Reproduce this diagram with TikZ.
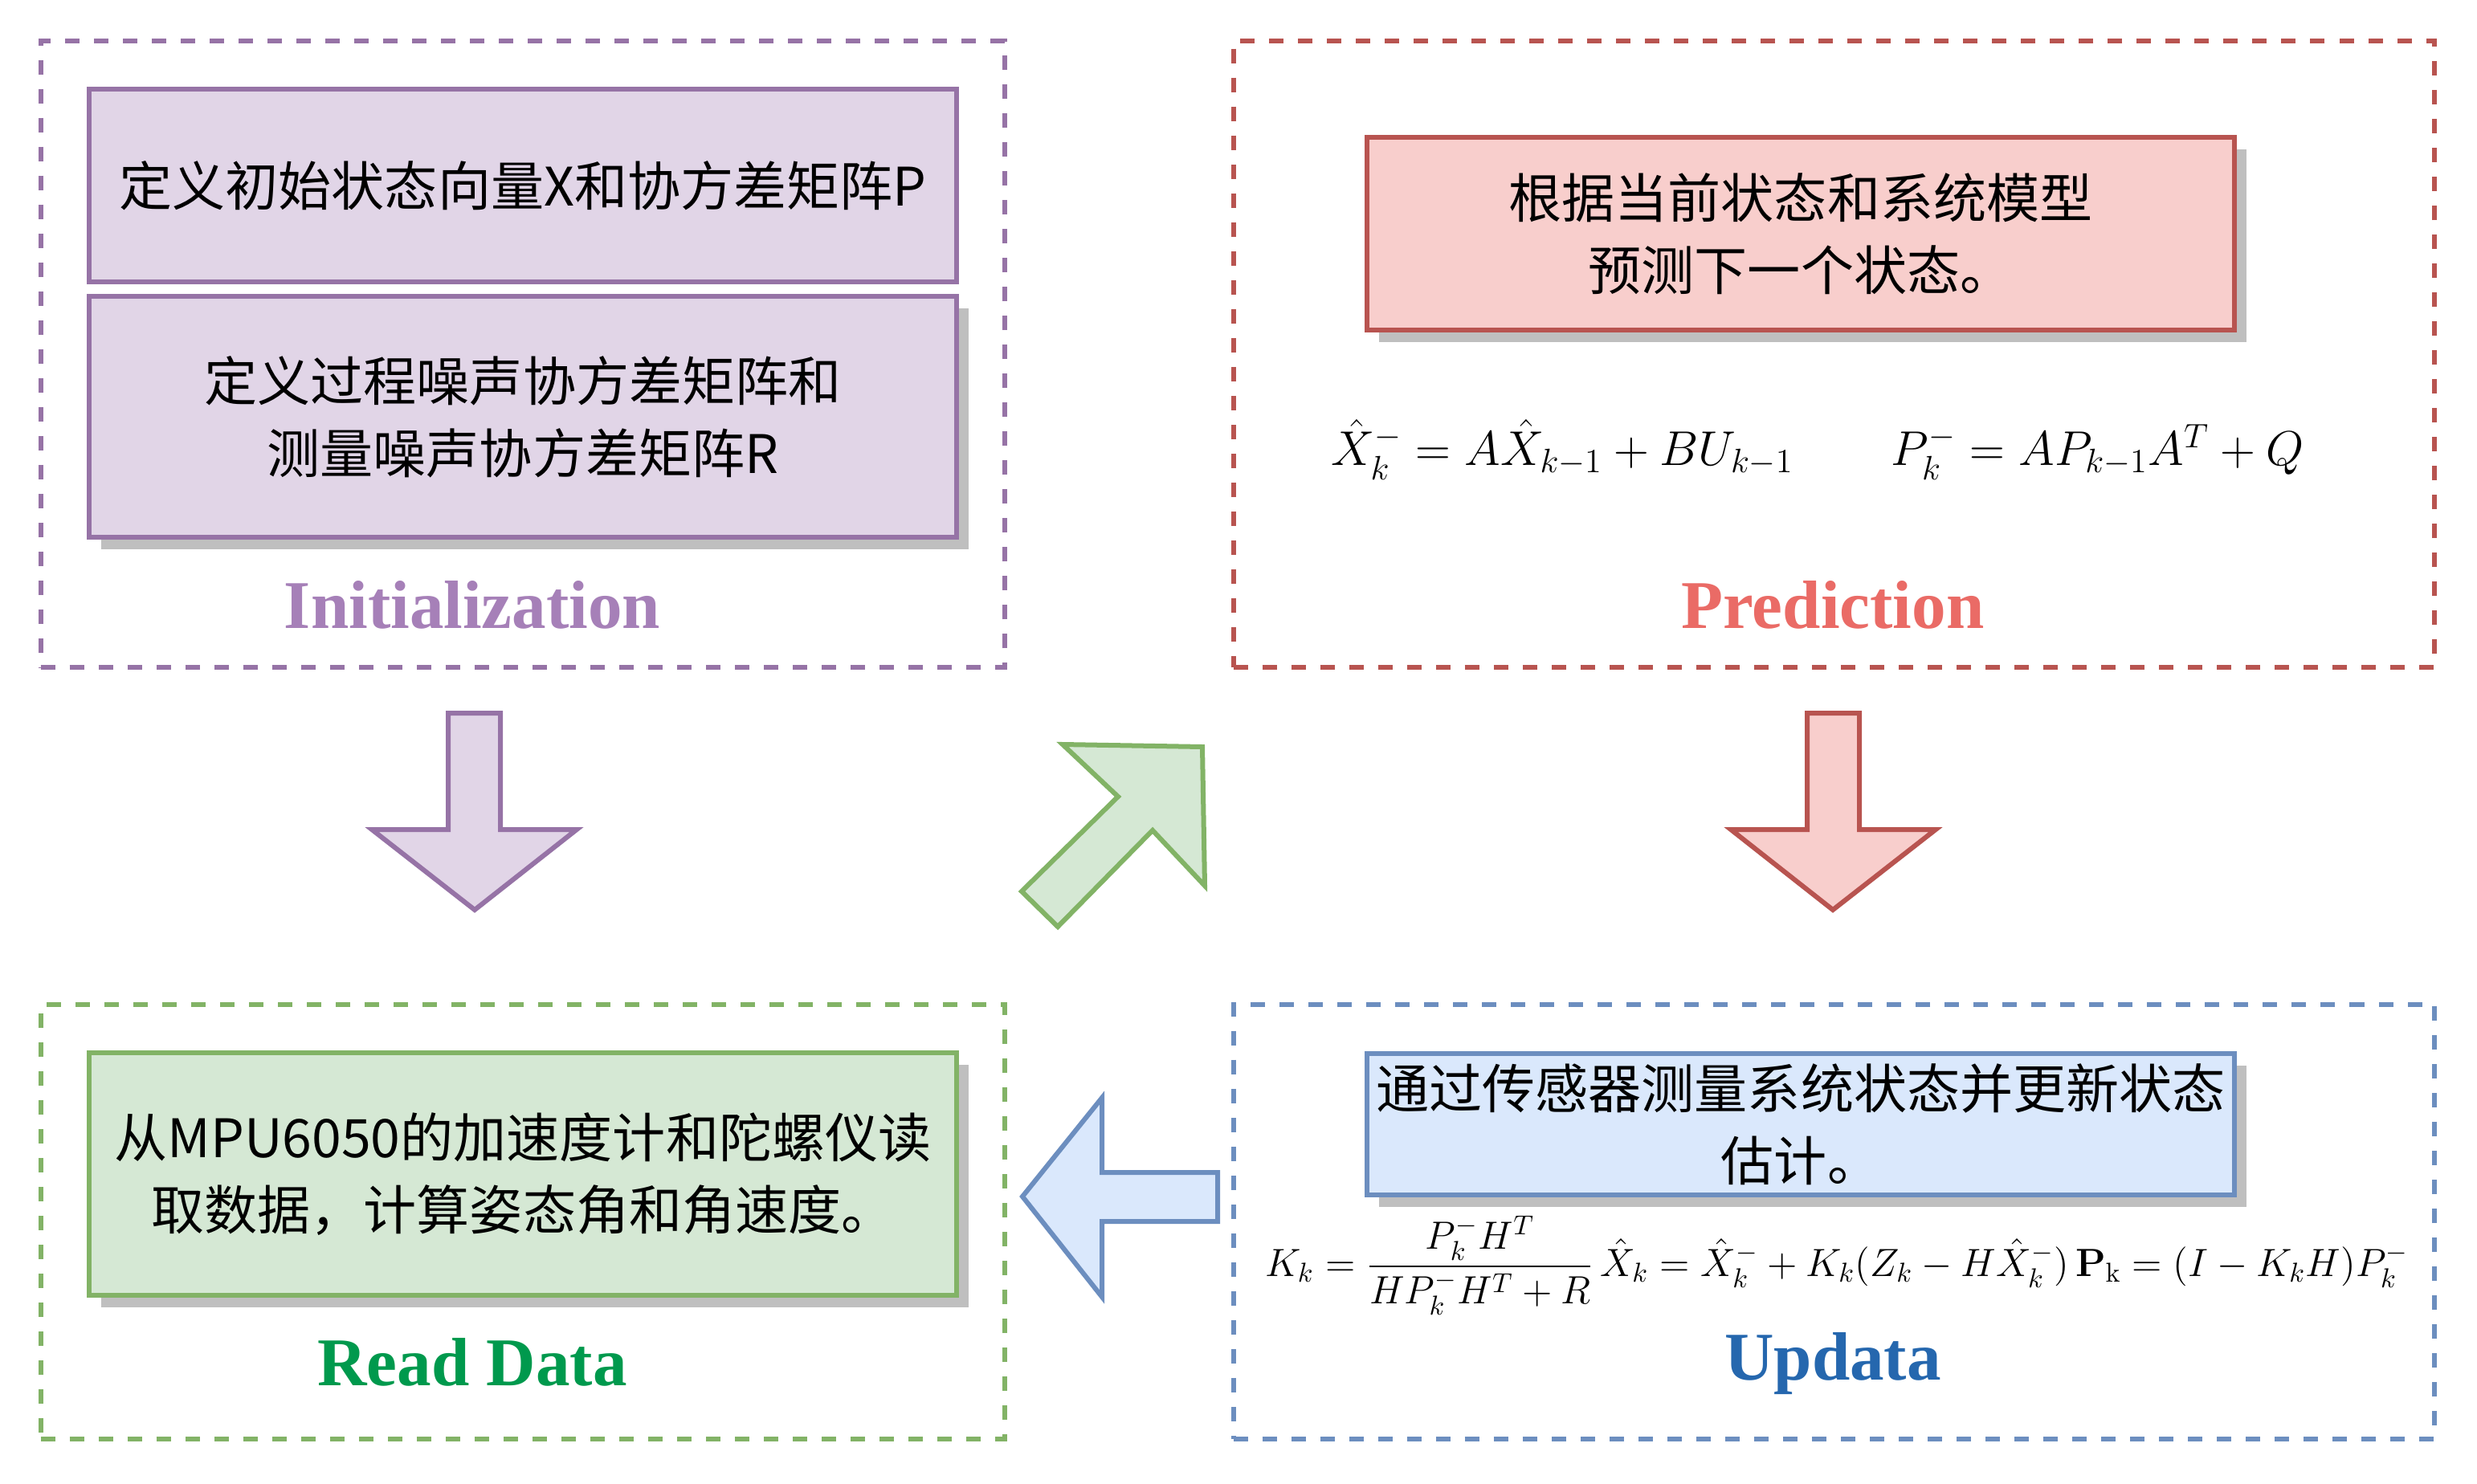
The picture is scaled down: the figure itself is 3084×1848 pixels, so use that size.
\documentclass[tikz,border=0pt]{standalone}
\usepackage{amsmath}
\usepackage[no-math]{fontspec}
\setmainfont{Noto Sans CJK SC}
\newfontfamily\labelfont{Liberation Serif}
\usetikzlibrary{shadows}

\definecolor{initdraw}{HTML}{9673A6}
\definecolor{initfill}{HTML}{E1D5E7}
\definecolor{initlabel}{HTML}{A680B8}
\definecolor{preddraw}{HTML}{B85450}
\definecolor{predfill}{HTML}{F8CECC}
\definecolor{predlabel}{HTML}{EA6B66}
\definecolor{readdraw}{HTML}{82B366}
\definecolor{readfill}{HTML}{D5E8D4}
\definecolor{readlabel}{HTML}{00994D}
\definecolor{upddraw}{HTML}{6C8EBF}
\definecolor{updfill}{HTML}{DAE8FC}
\definecolor{updlabel}{HTML}{2567AE}

\tikzset{
  zone/.style={draw, dash pattern=on 0.18cm off 0.18cm, line width=0.06cm},
  stepbox/.style={draw, line width=0.06cm, minimum width=10.8cm, align=center,
    inner sep=0pt, font=\fontsize{18.8}{25.6}\selectfont},
  shadowbox/.style={stepbox, drop shadow={shadow xshift=0.15cm, shadow yshift=-0.15cm,
    fill=black!25, opacity=1}},
  zonelabel/.style={font=\labelfont\bfseries\fontsize{24.2}{28}\selectfont},
  blockarrow/.style={line width=0.06cm, line join=miter}
}

\begin{document}
\begin{tikzpicture}[x=0.01cm, y=-0.01cm]
  \useasboundingbox (0,0) rectangle (3084,1848);

  % dashed zones
  \node[zone, draw=initdraw, minimum width=12cm, minimum height=7.8cm] (initzone) at (651,441) {};
  \node[zone, draw=preddraw, minimum width=14.95cm, minimum height=7.8cm] (predzone) at (2283.5,441) {};
  \node[zone, draw=readdraw, minimum width=12cm, minimum height=5.41cm] (readzone) at (651,1521.5) {};
  \node[zone, draw=upddraw, minimum width=14.95cm, minimum height=5.41cm] (updzone) at (2283.5,1521.5) {};

  % Initialization
  \node[stepbox, draw=initdraw, fill=initfill, minimum height=2.4cm] (initx) at (651,231)
    {定义初始状态向量X和协方差矩阵P};
  \node[shadowbox, draw=initdraw, fill=initfill, minimum height=3cm] (initnoise) at (651,519)
    {定义过程噪声协方差矩阵和\\测量噪声协方差矩阵R};
  \node[zonelabel, text=initlabel] (initlbl) at (588,753) {Initialization};

  % Prediction
  \node[font=\fontsize{17.28}{20}\selectfont] (predformula) at (2263,560)
    {$\hat{X}_k^- = A\hat{X}_{k-1} + BU_{k-1} \qquad P_k^- = AP_{k-1}A^T + Q$};
  \node[shadowbox, draw=preddraw, fill=predfill, minimum height=2.4cm] (predstate) at (2242,291)
    {根据当前状态和系统模型\\预测下一个状态。};
  \node[zonelabel, text=predlabel] (predlbl) at (2282,753) {Prediction};

  % Read Data
  \node[shadowbox, draw=readdraw, fill=readfill, minimum height=3.01cm] (readimu) at (651,1462)
    {从MPU6050的加速度计和陀螺仪读\\取数据，计算姿态角和角速度。};
  \node[zonelabel, text=readlabel] (readlbl) at (588,1696) {Read Data};

  % Updata
  \node[shadowbox, draw=upddraw, fill=updfill, minimum height=1.76cm] (updsensor) at (2242,1400)
    {通过传感器测量系统状态并更新状态\\估计。};
  \node[font=\fontsize{14.4}{18}\selectfont] (updformula) at (2287,1576)
    {\scalebox{0.968}{$K_k = \dfrac{P_k^- H^T}{HP_k^- H^T + R}\,\hat{X}_k = \hat{X}_k^- + K_k(Z_k - H\hat{X}_k^-)\,\mathbf{P}_\mathrm{k} = (I - K_k H)P_k^-$}};
  \node[zonelabel, text=updlabel] (updlbl) at (2282,1698) {Updata};

  % block arrows
  \draw[blockarrow, draw=initdraw, fill=initfill] (558,888) -- (623,888) -- (623,1033) -- (718,1033)
    -- (591,1133) -- (463,1033) -- (558,1033) -- cycle;
  \draw[blockarrow, draw=preddraw, fill=predfill] (2250,888) -- (2315,888) -- (2315,1033) -- (2410,1033)
    -- (2282,1133) -- (2155,1033) -- (2250,1033) -- cycle;
  \draw[blockarrow, draw=upddraw, fill=updfill] (1516,1460) -- (1516,1521) -- (1372,1521) -- (1372,1615)
    -- (1273,1490) -- (1372,1367) -- (1372,1460) -- cycle;
  \draw[blockarrow, draw=readdraw, fill=readfill] (1323,927) -- (1497,930) -- (1500,1103) -- (1435,1034)
    -- (1317,1154) -- (1272,1110) -- (1392,992) -- cycle;
\end{tikzpicture}
\end{document}
